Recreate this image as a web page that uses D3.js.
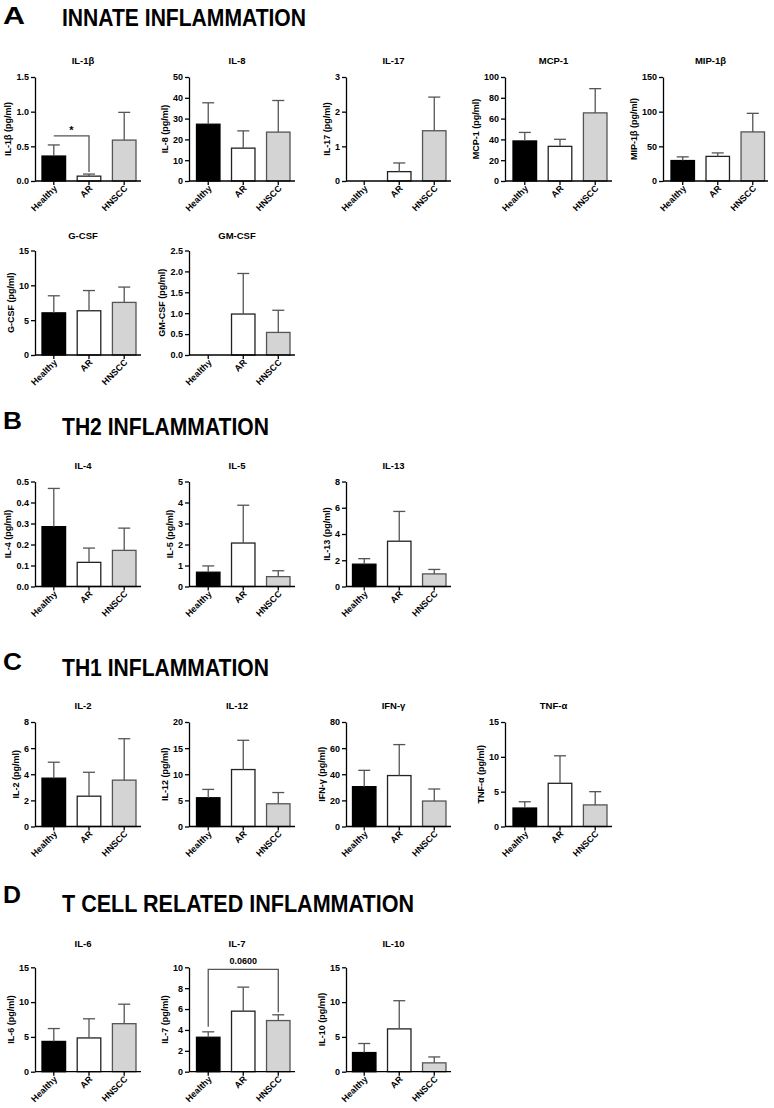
<!DOCTYPE html>
<html><head><meta charset="utf-8">
<script src="https://cdn.jsdelivr.net/npm/d3@7"></script>
<style>
body{margin:0;background:#fff}
svg{display:block}
text{font-family:"Liberation Sans",Arial,sans-serif;font-weight:bold;fill:#000}
</style></head>
<body><svg id="c" width="774" height="1108"></svg>
<script>
// ---------------- data ----------------
const groups = ["Healthy", "AR", "HNSCC"];
const sectionLetters = ["A", "B", "C", "D"];
const sectionTitles = ["INNATE INFLAMMATION", "TH2 INFLAMMATION", "TH1 INFLAMMATION", "T CELL RELATED INFLAMMATION"];
const cytokines = ["IL-1β", "IL-8", "IL-17", "MCP-1", "MIP-1β", "G-CSF", "GM-CSF",
  "IL-4", "IL-5", "IL-13",
  "IL-2", "IL-12", "IFN-γ", "TNF-α",
  "IL-6", "IL-7", "IL-10"];
// mean values per group (Healthy, AR, HNSCC)
const means = [
  [0.36, 0.07, 0.59], [27.3, 15.8, 23.5], [0, 0.27, 1.45], [38.5, 33.3, 65.5], [29.5, 35.5, 70.8],
  [6.05, 6.35, 7.55], [0, 0.98, 0.54],
  [0.285, 0.115, 0.172], [0.68, 2.07, 0.47], [1.7, 3.45, 0.96],
  [3.7, 2.32, 3.55], [5.5, 10.9, 4.35], [30.5, 39, 19.5], [2.65, 6.2, 3.1],
  [4.35, 4.85, 6.9], [3.3, 5.8, 4.9], [2.75, 6.15, 1.27]
];
// top of the (upper) error bar per group
const errTops = [
  [0.52, 0.10, 0.99], [37.6, 24.1, 38.7], [0, 0.52, 2.42], [46.7, 40.1, 88.8], [34.8, 40.5, 97.6],
  [8.5, 9.25, 9.75], [0, 1.95, 1.07],
  [0.467, 0.183, 0.278], [0.98, 3.87, 0.75], [2.12, 5.72, 1.3],
  [4.92, 4.15, 6.72], [7.1, 16.5, 6.5], [43, 62.7, 28.7], [3.55, 10.15, 5.0],
  [6.2, 7.6, 9.7], [3.82, 8.1, 5.45], [4.05, 10.2, 2.12]
];
const yMaxes = [1.5, 50, 3, 100, 150, 15, 2.5, 0.5, 5, 8, 8, 20, 80, 15, 15, 10, 15];
const yTickSteps = [0.5, 10, 1, 20, 50, 5, 0.5, 0.1, 1, 2, 2, 5, 20, 5, 5, 2, 5];
const yTickDecimals = [1, 0, 0, 0, 0, 0, 1, 1, 0, 0, 0, 0, 0, 0, 0, 0, 0];
const unitLabel = "(pg/ml)";
// significance comparisons: panel index, group a, group b, bar level, leg ends, label
const sigPanels = [0, 15];
const sigFrom = [0, 0];
const sigTo = [1, 2];
const sigLevels = [0.65, 9.8];
const sigLegEndA = [null, 4.3];
const sigLegEndB = [0.13, 5.7];
const sigLabels = ["*", "0.0600"];

// ---------------- layout ----------------
const cols = [
  {x0: 35, bl: 42, br: 136, x1: 141},
  {x0: 189, bl: 196.5, br: 290, x1: 295},
  {x0: 346, bl: 352.5, br: 446, x1: 451},
  {x0: 505, bl: 513, br: 607, x1: 612},
  {x0: 663, bl: 671, br: 764.5, x1: 768}
];
const rows = [
  {top: 77, zero: 181, tY: 64},
  {top: 250.5, zero: 355, tY: 238.5},
  {top: 481.5, zero: 586.5, tY: 468.5},
  {top: 722, zero: 826.5, tY: 708.5},
  {top: 967.3, zero: 1071.7, tY: 947}
];
const panelRC = [[0,0],[0,1],[0,2],[0,3],[0,4],[1,0],[1,1],[2,0],[2,1],[2,2],[3,0],[3,1],[3,2],[3,3],[4,0],[4,1],[4,2]];
const sectionPos = [
  {lb: 23.5, tb: 25.7, lw: 22, tw: 244},
  {lb: 428.5, tb: 435, lw: 19, tw: 207},
  {lb: 670, tb: 676, lw: 19, tw: 207},
  {lb: 903, tb: 911.7, lw: 18, tw: 352}
];
const fills = ["#000000", "#ffffff", "#d4d4d4"];
const strokes = ["#000000", "#222222", "#555555"];

const svg = d3.select("#c");

// section headers
sectionLetters.forEach((L, i) => {
  const p = sectionPos[i];
  svg.append("text").attr("x", 3).attr("y", p.lb).attr("font-size", 23)
    .attr("textLength", p.lw).attr("lengthAdjust", "spacingAndGlyphs").text(L);
  svg.append("text").attr("x", 62).attr("y", p.tb).attr("font-size", 23.5)
    .attr("textLength", p.tw).attr("lengthAdjust", "spacingAndGlyphs").text(sectionTitles[i]);
});

// panels
cytokines.forEach((name, i) => {
  const [r, c] = panelRC[i];
  const L = cols[c], R = rows[r];
  const g = svg.append("g");
  const y = d3.scaleLinear().domain([0, yMaxes[i]]).range([R.zero, R.top]);
  const x = d3.scaleBand().domain(groups).range([L.bl, L.br]).paddingInner(0.33).paddingOuter(0);
  const ticks = d3.range(0, yMaxes[i] + yTickSteps[i] / 2, yTickSteps[i]);
  const fmt = d3.format("." + yTickDecimals[i] + "f");

  // bars
  const rowsData = groups.map((gname, k) => ({g: gname, k, m: means[i][k], e: errTops[i][k]}));
  g.selectAll("rect.bar").data(rowsData.filter(d => d.m > 0)).join("rect")
    .attr("x", d => x(d.g)).attr("width", x.bandwidth())
    .attr("y", d => y(d.m)).attr("height", d => y(0) - y(d.m))
    .attr("fill", d => fills[d.k]).attr("stroke", d => strokes[d.k]).attr("stroke-width", 1.3);
  // error bars (upper only)
  const eb = rowsData.filter(d => d.e > d.m);
  g.selectAll("line.err").data(eb).join("line")
    .attr("x1", d => x(d.g) + x.bandwidth() / 2).attr("x2", d => x(d.g) + x.bandwidth() / 2)
    .attr("y1", d => y(d.m)).attr("y2", d => y(d.e))
    .attr("stroke", "#555").attr("stroke-width", 1.3);
  g.selectAll("line.cap").data(eb).join("line")
    .attr("x1", d => x(d.g) + x.bandwidth() / 2 - 6).attr("x2", d => x(d.g) + x.bandwidth() / 2 + 6)
    .attr("y1", d => y(d.e)).attr("y2", d => y(d.e))
    .attr("stroke", "#555").attr("stroke-width", 1.3);

  // y axis
  const ya = g.append("g").attr("transform", `translate(${L.x0},0)`)
    .call(d3.axisLeft(y).tickValues(ticks).tickFormat(fmt).tickSize(4).tickSizeOuter(0).tickPadding(2));
  ya.select(".domain").attr("stroke", "#000").attr("stroke-width", 1.3);
  ya.selectAll(".tick line").attr("stroke", "#000").attr("stroke-width", 1.3);
  ya.selectAll(".tick text").attr("font-size", 9).attr("font-family", null).style("font-weight", "bold");
  let maxW = 0;
  ya.selectAll(".tick text").each(function () { maxW = Math.max(maxW, this.getComputedTextLength()); });

  // x axis
  g.append("line").attr("x1", L.x0).attr("x2", L.x1).attr("y1", R.zero).attr("y2", R.zero)
    .attr("stroke", "#000").attr("stroke-width", 1.3);
  const xa = g.append("g").attr("transform", `translate(0,${R.zero})`)
    .call(d3.axisBottom(x).tickSize(4).tickSizeOuter(0));
  xa.select(".domain").remove();
  xa.selectAll(".tick line").attr("stroke", "#000").attr("stroke-width", 1.3);
  xa.selectAll(".tick text")
    .attr("font-size", 9).attr("font-family", null)
    .attr("text-anchor", "end").attr("dy", 0).attr("y", 0)
    .attr("transform", "translate(4,8) rotate(-45)");

  // y label
  g.append("text")
    .attr("transform", `translate(${L.x0 - 4 - 2 - maxW - 5},${(R.zero + R.top) / 2}) rotate(-90)`)
    .attr("text-anchor", "middle").attr("font-size", 9).text(`${name} ${unitLabel}`);

  // title
  g.append("text").attr("x", (L.x0 + L.x1) / 2 - 5).attr("y", R.tY)
    .attr("text-anchor", "middle").attr("font-size", 9.5).text(name);

  // significance
  sigPanels.forEach((p, s) => {
    if (p !== i) return;
    const xa_ = x(groups[sigFrom[s]]) + x.bandwidth() / 2;
    const xb_ = x(groups[sigTo[s]]) + x.bandwidth() / 2;
    const yl = y(sigLevels[s]);
    let d = "";
    d += sigLegEndA[s] !== null ? `M${xa_},${y(sigLegEndA[s])}V${yl}` : `M${xa_},${yl}`;
    d += `H${xb_}V${y(sigLegEndB[s])}`;
    g.append("path").attr("d", d).attr("fill", "none").attr("stroke", "#555").attr("stroke-width", 1.3);
    g.append("text").attr("x", (xa_ + xb_) / 2).attr("y", yl - (sigLabels[s] === "*" ? 2 : 5))
      .attr("text-anchor", "middle").attr("font-size", sigLabels[s] === "*" ? 11 : 9).text(sigLabels[s]);
  });
});
</script></body></html>
